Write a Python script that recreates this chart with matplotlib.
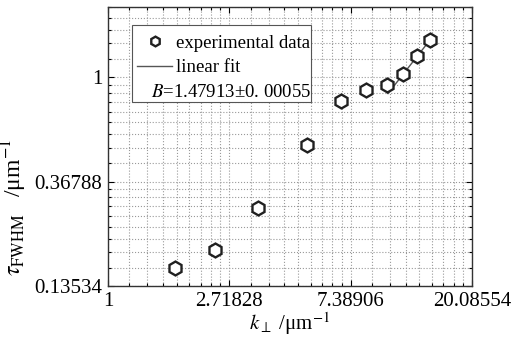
import numpy as np
import matplotlib
matplotlib.use('Agg')
import matplotlib.pyplot as plt
from matplotlib.ticker import FixedLocator, FuncFormatter, NullFormatter
from matplotlib.lines import Line2D
from matplotlib.patches import Rectangle

plt.rcParams['font.family'] = ['Liberation Serif', 'DejaVu Serif']
plt.rcParams['mathtext.fontset'] = 'stix'

# data
k_perp = [1.733, 2.415, 3.452, 5.14, 6.81, 8.36, 9.94, 11.35, 12.80, 14.21]
tau_fwhm = [0.1604, 0.1908, 0.2857, 0.5236, 0.794, 0.8825, 0.926, 1.029, 1.224, 1.427]
fit_B = 1.47913
fit_lnc = -3.570
fit_range = [10.05, 14.25]

x_exps = [0, 1, 2, 3]
y_exps = [-2, -1, 0]


def e_minor(exps):
    out = []
    for n in range(exps[0] - 1, exps[-1] + 1):
        lo, hi = np.e ** n, np.e ** (n + 1)
        out += [lo + k * (hi - lo) / 9 for k in range(1, 9)]
    return out


def e_fmt(v, pos):
    s = '%.5f' % v
    return s.rstrip('0').rstrip('.')


fig = plt.figure(figsize=(5.13, 3.45), dpi=100)
ax = fig.add_axes([0.2105, 0.171, 0.7095, 0.809])
ax.set_xscale('log')
ax.set_yscale('log')

ax.plot(k_perp, tau_fwhm, linestyle='none', marker='h', markersize=10,
        markerfacecolor='white', markeredgecolor='#202020', markeredgewidth=1.7,
        zorder=3)
xf = np.linspace(fit_range[0], fit_range[1], 20)
ax.plot(xf, np.exp(fit_lnc) * xf ** fit_B, color='#555555', lw=1.0, zorder=2)

ax.set_xlim(1, np.e ** 3)
ax.set_ylim(np.e ** -2, 1.96)

ax.xaxis.set_major_locator(FixedLocator([np.e ** n for n in x_exps]))
ax.yaxis.set_major_locator(FixedLocator([np.e ** n for n in y_exps]))
ax.xaxis.set_minor_locator(FixedLocator(e_minor(x_exps)))
ax.yaxis.set_minor_locator(FixedLocator(e_minor(y_exps + [1])))
ax.xaxis.set_major_formatter(FuncFormatter(e_fmt))
ax.yaxis.set_major_formatter(FuncFormatter(e_fmt))
ax.xaxis.set_minor_formatter(NullFormatter())
ax.yaxis.set_minor_formatter(NullFormatter())

ax.tick_params(which='both', direction='in', top=True, right=True,
               labelsize=15, width=0.8, pad=4)
ax.tick_params(which='major', length=4)
ax.tick_params(which='minor', length=2.5)
ax.grid(which='both', linestyle=':', color='#999999', linewidth=0.8)
for sp in ax.spines.values():
    sp.set_linewidth(1.0)
    sp.set_color('#333333')

ax.set_xlabel(r'$k_{\perp}$ /μm$^{-1}$', fontsize=15, labelpad=0)
ax.set_ylabel(r'$\tau_{\rm FWHM}\quad$/μm$^{-1}$', fontsize=17)
ax.yaxis.set_label_coords(-0.216, 0.283)

# legend frame drawn by hand so the third line can sit further left
frame = Rectangle((0.066, 0.659), 0.492, 0.2765, transform=ax.transAxes,
                  facecolor='white', edgecolor='#555555', lw=0.8, zorder=4)
ax.add_patch(frame)

handles = [Line2D([], [], linestyle='none', marker='h', markersize=7,
                  markerfacecolor='white', markeredgecolor='#202020', markeredgewidth=1.7),
           Line2D([], [], color='#555555', lw=1.0),
           Line2D([], [], linestyle='none')]
labels = ['experimental data', 'linear fit', r'$B$=1.47913±0. 00055']
leg = ax.legend(handles, labels, loc='upper left', bbox_to_anchor=(0.053, 0.9355),
                borderaxespad=0, fontsize=13.5, frameon=False, handlelength=1.87,
                handletextpad=0.2, borderpad=0.52, labelspacing=0.4)
leg.set_zorder(5)
leg.get_texts()[2].set_x(-25)

fig.savefig('out.png', dpi=100)
